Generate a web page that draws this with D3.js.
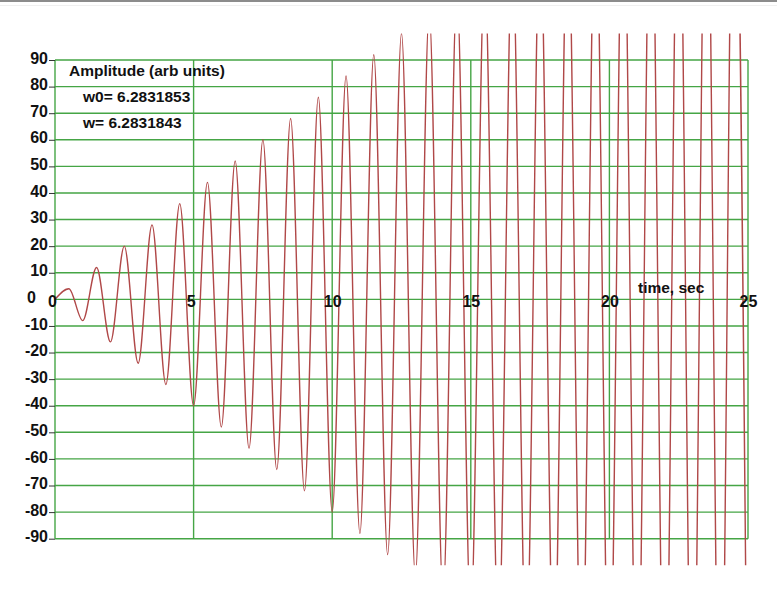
<!DOCTYPE html>
<html>
<head>
<meta charset="utf-8">
<script src="https://cdn.jsdelivr.net/npm/d3@7"></script>
<style>
  html, body { margin: 0; padding: 0; background: #ffffff; }
  svg { display: block; }
  text { font-family: "Liberation Sans", Arial, sans-serif; font-weight: bold; fill: #111; }
</style>
</head>
<body>
<svg id="chart" width="777" height="600"></svg>
<script>
// ---- data ----
const yTicks = [-90, -80, -70, -60, -50, -40, -30, -20, -10, 0, 10, 20, 30, 40, 50, 60, 70, 80, 90];
const xTicks = [0, 5, 10, 15, 20, 25];
// times (s) of the successive extrema of the oscillation
const extremaTime = [0, 0.5, 1, 1.5, 2, 2.5, 3, 3.5, 4, 4.5, 5, 5.5, 6, 6.5, 7, 7.5, 8, 8.5, 9, 9.5,
  10, 10.5, 11, 11.5, 12, 12.5, 13, 13.5, 14, 14.5, 15, 15.5, 16, 16.5, 17, 17.5, 18, 18.5, 19, 19.5,
  20, 20.5, 21, 21.5, 22, 22.5, 23, 23.5, 24, 24.5, 25];
// amplitude at those extrema (values beyond +/-100 are off the picture, estimated)
const extremaValue = [0, 4, -8, 12, -16, 20, -24, 28, -32, 36, -40, 44, -48, 52, -56, 60, -64, 68, -72, 76,
  -80, 84, -88, 92, -96, 100, -104, 108, -112, 116, -120, 124, -128, 132, -136, 140, -144, 148, -152, 156,
  -160, 164, -168, 172, -176, 180, -184, 188, -192, 196, -200];
const titleLines = ["Amplitude (arb units)", "w0= 6.2831853", "w= 6.2831843"];
const xAxisTitle = "time, sec";

// ---- layout ----
const svg = d3.select("#chart");
const x = d3.scaleLinear().domain([0, 25]).range([55, 748]);
const y = d3.scaleLinear().domain([-90, 90]).range([538.7, 60]);

const gridColor = "#45a545";
const curveColor = "#b04848";
const tickFont = "16px";

// top gray border
svg.append("rect").attr("x", 0).attr("y", 0).attr("width", 777).attr("height", 2).attr("fill", "#8c8c8c");
svg.append("rect").attr("x", 0).attr("y", 5).attr("width", 777).attr("height", 1).attr("fill", "#f0f0f0");

// grid
const grid = svg.append("g");
grid.selectAll("line.h").data(yTicks).join("line")
  .attr("x1", x(0)).attr("x2", x(25))
  .attr("y1", d => y(d)).attr("y2", d => y(d))
  .attr("stroke", gridColor).attr("stroke-width", 1.4);
grid.selectAll("line.v").data(xTicks).join("line")
  .attr("x1", d => x(d)).attr("x2", d => x(d))
  .attr("y1", y(90)).attr("y2", y(-90))
  .attr("stroke", gridColor).attr("stroke-width", 1.4);

// curve
svg.append("clipPath").attr("id", "clip").append("rect")
  .attr("x", x(0)).attr("y", y(100)).attr("width", x(25) - x(0)).attr("height", y(-100) - y(100));
const pts = extremaTime.map((t, i) => [t, extremaValue[i]]);
const line = d3.line().x(d => x(d[0])).y(d => y(d[1])).curve(d3.curveMonotoneX);
svg.append("path").datum(pts)
  .attr("clip-path", "url(#clip)")
  .attr("d", line)
  .attr("fill", "none").attr("stroke", curveColor).attr("stroke-width", 1.4);

// y axis
const yAxis = svg.append("g").attr("transform", `translate(${x(0)},0)`)
  .call(d3.axisLeft(y).tickValues(yTicks).tickSize(6).tickPadding(1).tickFormat(d => String(d)));
yAxis.select(".domain").remove();
yAxis.selectAll(".tick line").attr("stroke", "#333").attr("stroke-width", 1);
yAxis.selectAll(".tick text")
  .style("font-size", tickFont).style("font-family", "'Liberation Sans', Arial, sans-serif").style("font-weight", "bold")
  .attr("fill", "#111").attr("dy", "0.2em")
  .attr("dx", d => d === 0 ? -12 : 0);
yAxis.selectAll(".tick").filter(d => d === 0).select("line").remove();

// x axis labels on the zero line
const xAxis = svg.append("g").attr("transform", `translate(0,${y(0)})`)
  .call(d3.axisBottom(x).tickValues(xTicks).tickSize(0).tickPadding(0).tickFormat(d => String(d)));
xAxis.select(".domain").remove();
xAxis.selectAll(".tick text")
  .style("font-size", tickFont).style("font-family", "'Liberation Sans', Arial, sans-serif").style("font-weight", "bold")
  .attr("fill", "#111").attr("y", 0).attr("dy", "0.5em")
  .attr("dx", d => d === 0 ? -3 : (d === 5 ? -3 : 0));

// titles
svg.append("text").attr("x", 69).attr("y", 76).style("font-size", "15.5px").text(titleLines[0]);
svg.append("text").attr("x", 83).attr("y", 102).style("font-size", "15.5px").text(titleLines[1]);
svg.append("text").attr("x", 83).attr("y", 128).style("font-size", "15.5px").text(titleLines[2]);
svg.append("text").attr("x", 638).attr("y", 293).style("font-size", "15.5px").text(xAxisTitle);
</script>
</body>
</html>
